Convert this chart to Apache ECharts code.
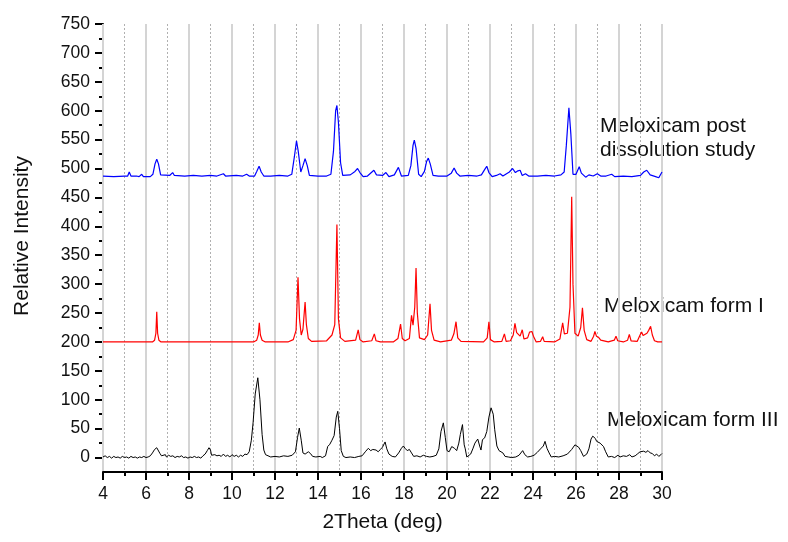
<!DOCTYPE html>
<html>
<head>
<meta charset="utf-8">
<script src="https://cdn.jsdelivr.net/npm/echarts@6/dist/echarts.min.js"></script>
<style>html,body{margin:0;padding:0;background:#fff}#c{width:788px;height:542px}</style>
</head>
<body>
<div id="c"></div>
<script>
// ---- data ----
const seriesNames = ['Meloxicam post dissolution study', 'Meloxicam form I', 'Meloxicam form III'];
const yTickLabels = [0,50,100,150,200,250,300,350,400,450,500,550,600,650,700,750];
const yMinorTicks = [25,75,125,175,225,275,325,375,425,475,525,575,625,675,725];

const postDissolution = [
[4.0,487],[4.5,486],[5.0,487],[5.15,487],[5.22,494],[5.3,487],[5.55,487],[5.61,490],[5.68,486],[5.75,487],[5.8,490],[5.88,486],
[6.2,486],[6.32,490],[6.42,508],[6.5,516],[6.58,508],[6.68,489],[6.75,486],[7.1,488],[7.24,493],[7.32,488],[7.8,487],[8.2,488],
[8.6,487],[9.0,488],[9.3,487],[9.6,491],[9.7,487],[10.2,488],[10.5,487],[10.68,490],[10.8,487],[11.05,487],[11.15,495],[11.26,504],
[11.36,494],[11.48,487],[11.8,487],[12.2,488],[12.6,487],[12.78,490],[12.9,520],[13.0,548],[13.08,530],[13.2,494],[13.3,505],
[13.4,517],[13.5,505],[13.6,488],[14.0,487],[14.4,487],[14.6,490],[14.72,530],[14.82,600],[14.88,609],[14.95,580],[15.05,510],
[15.15,488],[15.5,489],[15.72,495],[15.84,500],[15.95,493],[16.1,486],[16.3,487],[16.6,497],[16.72,489],[17.0,488],[17.16,493],
[17.3,486],[17.55,489],[17.74,502],[17.88,487],[17.95,486],[18.2,488],[18.32,505],[18.42,540],[18.48,549],[18.56,535],[18.68,490],
[18.8,486],[18.95,495],[19.05,512],[19.13,518],[19.22,508],[19.35,488],[19.6,487],[20.0,487],[20.2,492],[20.33,501],[20.45,492],
[20.6,487],[21.0,488],[21.4,487],[21.6,489],[21.75,498],[21.85,504],[21.95,493],[22.1,486],[22.3,488],[22.47,491],[22.6,487],
[22.9,494],[23.05,500],[23.18,493],[23.3,496],[23.4,497],[23.5,488],[23.65,491],[23.8,487],[24.2,487],[24.6,488],[25.0,487],
[25.3,489],[25.45,494],[25.55,540],[25.67,605],[25.76,560],[25.86,490],[26.0,490],[26.15,503],[26.25,492],[26.45,485],[26.6,489],
[26.8,487],[26.99,491],[27.15,487],[27.4,487],[27.66,490],[27.8,486],[28.2,487],[28.6,486],[29.0,488],[29.15,494],[29.29,497],
[29.45,489],[29.7,486],[29.85,484],[30.0,494]
];

const formI = [
[4,200],[6.3,200],[6.4,203],[6.46,215],[6.5,252],[6.54,215],[6.6,203],[6.7,200],[6.9,200],[11.0,200],[11.15,203],[11.22,212],
[11.27,233],[11.32,212],[11.4,203],[11.55,200],[12.6,200],[12.85,204],[12.98,220],[13.07,312],[13.14,240],[13.22,212],[13.3,222],
[13.4,269],[13.46,230],[13.55,206],[13.7,201],[14.4,202],[14.65,212],[14.78,230],[14.88,403],[14.95,240],[15.05,207],[15.25,201],
[15.75,203],[15.87,221],[15.95,204],[16.1,200],[16.5,202],[16.62,214],[16.7,202],[16.9,200],[17.5,200],[17.72,206],[17.84,231],
[17.92,206],[18.05,202],[18.25,206],[18.35,246],[18.42,229],[18.5,260],[18.56,328],[18.62,250],[18.72,207],[18.95,204],[19.1,212],
[19.21,266],[19.28,220],[19.4,203],[19.7,200],[20.2,203],[20.32,214],[20.42,235],[20.5,207],[20.65,201],[21.7,200],[21.87,207],
[21.95,235],[22.02,204],[22.2,200],[22.55,201],[22.67,214],[22.75,201],[22.95,202],[23.08,212],[23.16,232],[23.24,216],[23.32,218],
[23.4,210],[23.5,221],[23.58,205],[23.75,207],[23.84,217],[23.9,215],[23.95,218],[24.02,210],[24.15,200],[24.35,201],[24.45,209],
[24.52,201],[25.0,200],[25.25,205],[25.38,233],[25.46,214],[25.6,215],[25.72,260],[25.8,451],[25.86,300],[25.95,215],[26.1,210],
[26.22,225],[26.3,259],[26.38,220],[26.5,204],[26.7,201],[26.82,210],[26.88,218],[26.95,210],[27.05,208],[27.15,203],[27.5,200],
[27.78,203],[27.86,210],[27.94,202],[28.2,200],[28.4,203],[28.48,213],[28.56,202],[28.85,201],[28.98,212],[29.05,217],[29.12,211],
[29.2,214],[29.3,215],[29.38,220],[29.47,227],[29.55,212],[29.65,202],[29.8,200],[30.0,200]
];

const formIII = [
[4.0,1],[4.1,3],[4.2,0],[4.3,2],[4.4,-1],[4.5,2],[4.6,0],[4.7,1],[4.8,-1],[4.9,2],[5.0,0],[5.1,1],[5.2,-1],[5.3,2],[5.4,0],[5.5,1],
[5.6,-1],[5.7,1],[5.8,0],[5.9,2],[6.0,0],[6.1,1],[6.2,3],[6.3,8],[6.4,14],[6.5,17],[6.58,14],[6.65,7],[6.72,3],[6.8,1],[6.9,5],
[6.95,1],[7.05,4],[7.15,2],[7.25,3],[7.35,0],[7.45,2],[7.55,1],[7.65,3],[7.75,0],[7.85,1],[7.95,-1],[8.05,1],[8.15,0],[8.25,2],
[8.35,0],[8.45,1],[8.55,-1],[8.65,3],[8.75,6],[8.85,12],[8.93,17],[9.0,13],[9.05,4],[9.12,1],[9.2,5],[9.3,3],[9.4,4],[9.5,2],
[9.6,6],[9.7,2],[9.8,4],[9.9,1],[10.0,5],[10.1,2],[10.2,4],[10.3,1],[10.4,4],[10.5,2],[10.6,6],[10.7,5],[10.8,10],[10.9,30],
[10.98,60],[11.08,110],[11.2,138],[11.3,100],[11.4,40],[11.48,13],[11.56,5],[11.65,2],[11.8,1],[12.0,2],[12.2,1],[12.4,3],[12.6,2],
[12.8,4],[12.95,10],[13.05,35],[13.13,51],[13.22,30],[13.3,8],[13.4,6],[13.55,10],[13.65,7],[13.75,2],[13.9,1],[14.1,2],[14.2,0],
[14.35,3],[14.45,19],[14.55,23],[14.65,30],[14.75,38],[14.85,70],[14.92,80],[15.0,50],[15.08,12],[15.18,2],[15.3,0],[15.5,1],
[15.7,0],[15.9,2],[16.05,3],[16.2,10],[16.34,16],[16.45,12],[16.55,14],[16.62,11],[16.7,13],[16.8,10],[16.9,14],[17.0,18],
[17.12,27],[17.2,15],[17.3,6],[17.45,2],[17.6,1],[17.75,8],[17.88,16],[17.97,20],[18.05,16],[18.15,12],[18.25,14],[18.35,8],
[18.45,2],[18.6,3],[18.75,1],[18.9,4],[19.05,2],[19.2,1],[19.35,2],[19.5,4],[19.62,15],[19.72,45],[19.83,60],[19.92,35],[20.0,12],
[20.1,10],[20.22,19],[20.35,16],[20.45,12],[20.55,25],[20.62,40],[20.72,57],[20.8,22],[20.85,15],[20.92,1],[21.0,2],[21.1,6],
[21.2,15],[21.3,25],[21.43,32],[21.52,20],[21.58,13],[21.65,31],[21.75,34],[21.85,45],[21.95,70],[22.05,86],[22.15,75],[22.22,48],
[22.32,20],[22.42,12],[22.5,13],[22.6,8],[22.7,2],[22.85,1],[23.0,0],[23.2,1],[23.35,4],[23.52,12],[23.62,5],[23.75,1],[23.9,2],
[24.05,4],[24.2,9],[24.35,15],[24.48,20],[24.56,28],[24.65,16],[24.75,8],[24.85,1],[25.0,2],[25.2,1],[25.4,3],[25.6,6],[25.8,14],
[25.95,22],[26.03,24],[26.12,18],[26.22,12],[26.35,2],[26.5,6],[26.6,15],[26.7,32],[26.78,37],[26.84,39],[26.9,33],[26.96,28],
[27.05,30],[27.12,25],[27.2,22],[27.28,19],[27.38,10],[27.5,1],[27.65,2],[27.8,0],[27.95,4],[28.05,1],[28.2,3],[28.35,2],[28.5,5],
[28.6,1],[28.75,3],[28.85,6],[28.98,10],[29.05,8],[29.15,11],[29.25,9],[29.35,12],[29.45,8],[29.55,7],[29.65,3],[29.75,6],
[29.85,2],[29.95,5],[30.0,7]
];

// ---- chart ----
const FONT = '"Liberation Sans", Arial, sans-serif';
const chart = echarts.init(document.getElementById('c'), null, {renderer: 'canvas'});
const lineSeries = (name, data, color, w) => ({
  name, type: 'line', data, showSymbol: false, symbol: 'none', animation: false,
  xAxisIndex: 0, yAxisIndex: 0,
  lineStyle: {color, width: w}, itemStyle: {color}, z: 5
});
chart.setOption({
  animation: false,
  backgroundColor: '#fff',
  grid: {left: 103, right: 126, top: 24, bottom: 70, containLabel: false},
  xAxis: [
    {
      type: 'value', min: 4, max: 30, interval: 2,
      name: '2Theta (deg)', nameLocation: 'middle', nameGap: 40,
      nameTextStyle: {fontFamily: FONT, fontSize: 21, color: '#111'},
      axisLine: {show: true, onZero: false, lineStyle: {color: '#000', width: 2}},
      axisTick: {show: true, inside: false, length: 8, lineStyle: {color: '#000', width: 2}},
      minorTick: {show: true, splitNumber: 2, length: 4, lineStyle: {color: '#000', width: 2}},
      axisLabel: {fontFamily: FONT, fontSize: 17.5, color: '#111', margin: 13},
      splitLine: {show: true, lineStyle: {color: '#d4d4d4', width: 2, type: 'solid'}},
      minorSplitLine: {show: true, lineStyle: {color: '#b0b0b0', width: 1, type: [2, 2]}},
      z: 3
    }
  ],
  yAxis: [
    {
      type: 'value', min: -25, max: 750,
      axisLine: {show: true, onZero: false, lineStyle: {color: '#000', width: 2}},
      axisTick: {show: true, inside: false, length: 8, customValues: yTickLabels, lineStyle: {color: '#000', width: 2}},
      axisLabel: {fontFamily: FONT, fontSize: 17.5, color: '#111', margin: 13, customValues: yTickLabels},
      splitLine: {show: false}
    },
    {
      type: 'value', min: -25, max: 750, position: 'left',
      axisLine: {show: false},
      axisTick: {show: true, inside: false, length: 4, customValues: yMinorTicks, lineStyle: {color: '#000', width: 2}},
      axisLabel: {show: false},
      splitLine: {show: false}
    }
  ],
  series: [
    lineSeries(seriesNames[0], postDissolution, '#0000ff', 1.2),
    lineSeries(seriesNames[1], formI, '#ff0000', 1.2),
    lineSeries(seriesNames[2], formIII, '#000000', 1)
  ],
  graphic: [
    {type: 'text', x: 22, y: 236, rotation: Math.PI / 2,
     style: {text: 'Relative Intensity', font: '21px ' + FONT, fill: '#111', align: 'center', verticalAlign: 'middle'}},
    {type: 'text', left: 600, top: 116, style: {text: 'Meloxicam post', font: '21px ' + FONT, fill: '#111'}},
    {type: 'text', left: 600, top: 140, style: {text: 'dissolution study', font: '21px ' + FONT, fill: '#111'}},
    {type: 'text', left: 604, top: 296, style: {text: seriesNames[1], font: '21px ' + FONT, fill: '#111'}},
    {type: 'text', left: 607, top: 410, style: {text: seriesNames[2], font: '21px ' + FONT, fill: '#111'}}
  ]
});
</script>
</body>
</html>
